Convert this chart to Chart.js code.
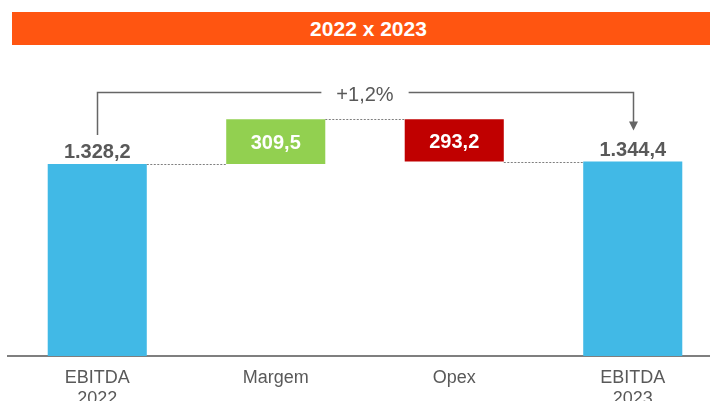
<!DOCTYPE html>
<html>
<head>
<meta charset="utf-8">
<script src="https://cdn.jsdelivr.net/npm/chart.js@4.4.1/dist/chart.umd.min.js"></script>
<style>
  html, body { margin: 0; padding: 0; background: #fff; overflow: hidden; width: 710px; height: 401px; }
  #banner {
    position: absolute; left: 12px; top: 12px; width: 713px; height: 33px;
    background: #FF5511; color: #fff; z-index: 2;
    font: bold 21px "Liberation Sans", Arial, sans-serif;
    line-height: 33px; text-align: center;
  }
  #wrap { position: absolute; left: 0; top: 0; width: 730px; height: 401px; }
</style>
</head>
<body>
<div id="banner">2022 x 2023</div>
<div id="wrap"><canvas id="waterfall" width="730" height="401"></canvas></div>
<script>
// dati del grafico
const categories = [['EBITDA', '2022'], 'Margem', 'Opex', ['EBITDA', '2023']];
const values = [1328.2, 309.5, -293.2, 1344.4];
const isTotal = [true, false, false, true];
const barColors = ['#41B9E6', '#92D050', '#C00000', '#41B9E6'];

const FONT = '"Liberation Sans", Arial, sans-serif';

// intervalli flottanti per la cascata
let running = 0;
const ranges = values.map(function(v, i) {
    if (isTotal[i]) { running = v; return [0, v]; }
    const start = running;
    running = Math.round((running + v) * 10) / 10;
    return [start, running];
});

function fmt(v) {
    const parts = v.toFixed(1).split('.');
    const int = parts[0].replace(/\B(?=(\d{3})+(?!\d))/g, '.');
    return int + ',' + parts[1];
}

const change = (values[values.length - 1] / values[0] - 1) * 100;
const changeLabel = (change >= 0 ? '+' : '') + change.toFixed(1).replace('.', ',') + '%';

const waterfallLabels = {
    id: 'waterfallLabels',
    afterDatasetsDraw(chart) {
        const ctx = chart.ctx;
        const bars = chart.getDatasetMeta(0).data;
        const yScale = chart.scales.y;
        const n = bars.length;
        ctx.save();

        // linee tratteggiate di collegamento
        ctx.setLineDash([2, 1.5]);
        ctx.strokeStyle = '#7f7f7f';
        ctx.lineWidth = 1;
        for (let i = 0; i < n - 1; i++) {
            const py = Math.round(yScale.getPixelForValue(ranges[i][1])) + 0.5;
            const x1 = bars[i].x + bars[i].width / 2;
            const x2 = bars[i + 1].x - bars[i + 1].width / 2;
            ctx.beginPath();
            ctx.moveTo(x1, py);
            ctx.lineTo(x2, py);
            ctx.stroke();
        }
        ctx.setLineDash([]);

        // etichette dei valori
        ctx.textAlign = 'center';
        ctx.textBaseline = 'middle';
        ctx.font = 'bold 20px ' + FONT;
        bars.forEach(function(b, i) {
            const top = Math.min(b.y, b.base);
            const bot = Math.max(b.y, b.base);
            if (isTotal[i]) {
                ctx.fillStyle = '#595959';
                ctx.fillText(fmt(values[i]), b.x, top - 11);
            } else {
                ctx.fillStyle = '#ffffff';
                ctx.fillText(fmt(Math.abs(values[i])), b.x, (top + bot) / 2 + 2);
            }
        });

        // freccia della variazione
        const a = bars[0], z = bars[n - 1];
        const by = Math.round(chart.chartArea.top + 32) + 0.5;
        const midX = (a.x + z.x) / 2;
        ctx.font = '20px ' + FONT;
        const w = ctx.measureText(changeLabel).width;
        ctx.strokeStyle = '#666666';
        ctx.fillStyle = '#666666';
        ctx.lineWidth = 1.5;
        const ax = Math.round(a.x) + 0.5;
        const zx = Math.round(z.x) + 0.5;
        const tip = Math.min(z.y, z.base) - 31;
        ctx.beginPath();
        ctx.moveTo(ax, Math.min(a.y, a.base) - 29);
        ctx.lineTo(ax, by);
        ctx.lineTo(midX - w / 2 - 15, by);
        ctx.moveTo(midX + w / 2 + 15, by);
        ctx.lineTo(zx, by);
        ctx.lineTo(zx, tip - 8);
        ctx.stroke();
        ctx.beginPath();
        ctx.moveTo(zx - 4.5, tip - 9);
        ctx.lineTo(zx + 4.5, tip - 9);
        ctx.lineTo(zx, tip);
        ctx.closePath();
        ctx.fill();
        ctx.fillStyle = '#595959';
        ctx.fillText(changeLabel, midX, by + 2.5);

        ctx.restore();
    }
};

const ctx = document.getElementById('waterfall').getContext('2d');
const chart = new Chart(ctx, {
    type: 'bar',
    data: {
        labels: categories,
        datasets: [{
            data: ranges,
            backgroundColor: barColors,
            borderWidth: 0,
            barPercentage: 0.555,
            categoryPercentage: 1
        }]
    },
    options: {
        responsive: false,
        animation: false,
        layout: { padding: { top: 60, left: 8, right: 8, bottom: 0 } },
        plugins: {
            legend: { display: false },
            tooltip: { enabled: false }
        },
        scales: {
            x: {
                grid: { display: false, drawTicks: false },
                border: { display: true, color: '#7f7f7f', width: 2 },
                ticks: {
                    color: '#595959',
                    padding: 12,
                    font: { family: FONT, size: 18, lineHeight: 1.15 }
                },
                afterFit: function(scale) { scale.height = 45; }
            },
            y: {
                display: false,
                min: 0,
                max: 2047
            }
        }
    },
    plugins: [waterfallLabels]
});
</script>
</body>
</html>
